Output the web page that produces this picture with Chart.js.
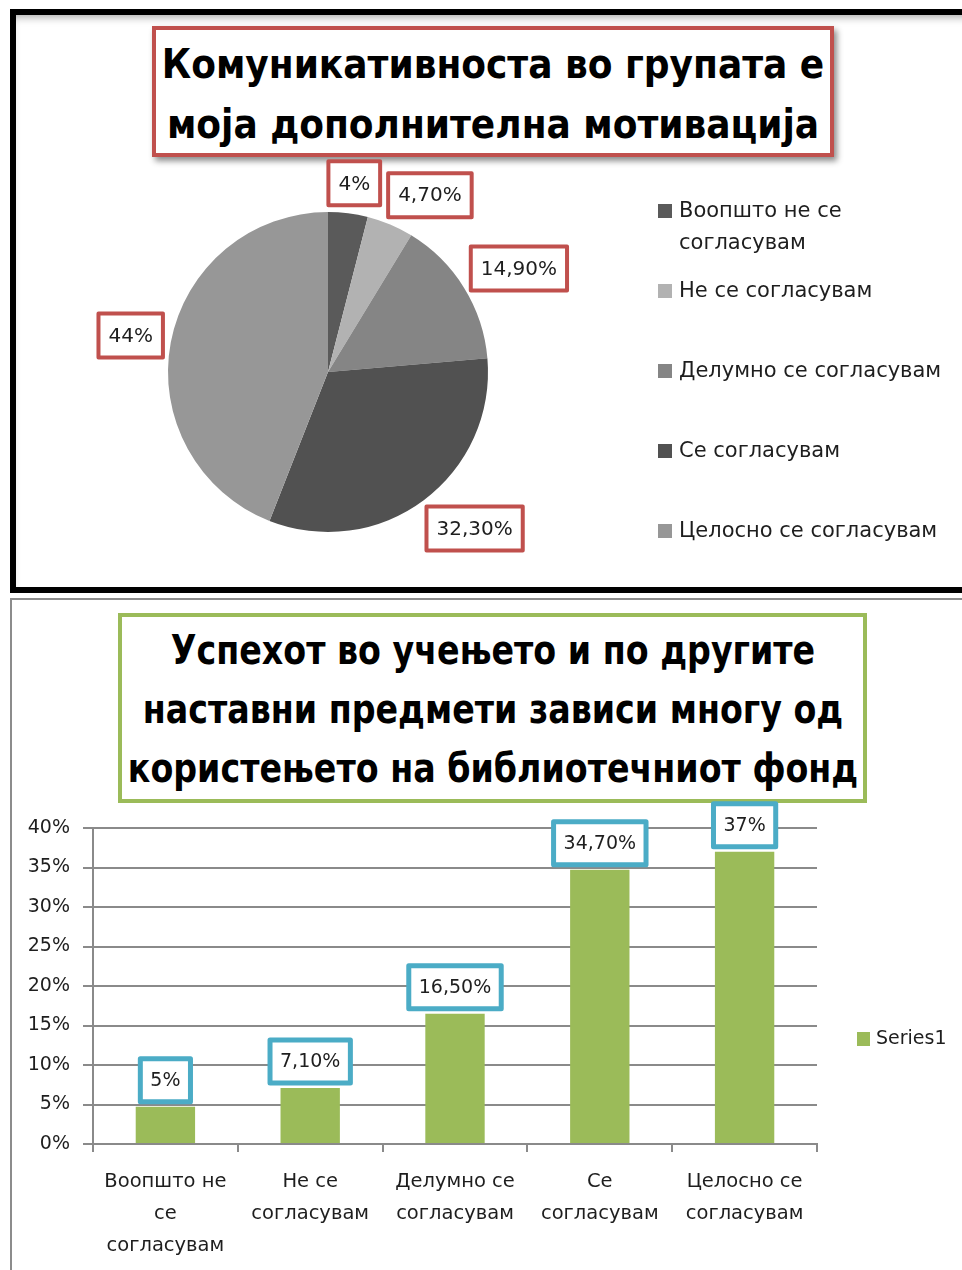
<!DOCTYPE html>
<html>
<head>
<meta charset="utf-8">
<script src="https://cdn.jsdelivr.net/npm/chart.js@4.4.0/dist/chart.umd.min.js"></script>
<style>
  html, body { margin: 0; padding: 0; background: #fff; }
  body { width: 962px; height: 1270px; position: relative; overflow: hidden; font-family: "DejaVu Sans", sans-serif; }
  .frame1 { position: absolute; left: 10px; top: 9px; width: 1000px; height: 572px; border: 6px solid #000;
            box-shadow: inset 0 7px 8px -5px rgba(0,0,0,0.35); }
  .frame2 { position: absolute; left: 10px; top: 598px; width: 1000px; height: 700px; border: 2px solid #8c8c8c; }
  .title { position: absolute; box-sizing: border-box; background: #fff; text-align: center; color: #000;
           font-family: "DejaVu Sans Condensed", "DejaVu Sans", sans-serif; font-weight: bold; white-space: nowrap; }
  .title span { position: absolute; left: 50%; transform: translateX(-50%); }
  #t1 { left: 152px; top: 26px; width: 682px; height: 131px; border: 4px solid #c0504d;
        box-shadow: 3px 4px 6px rgba(0,0,0,0.45); font-size: 40px; line-height: 60px; }
  #t1 span { top: 4px; }
  #t2 { left: 118px; top: 613px; width: 749px; height: 190px; border: 4px solid #9bbb59;
        font-size: 40px; line-height: 59px; }
  #t2 span { top: 4px; transform: translateX(-50%) scaleX(0.925); }
  canvas { position: absolute; left: 0; }
  #pieChart { top: 0; }
  #barChart { top: 800px; }
</style>
</head>
<body>
<div class="frame1"></div>
<div class="frame2"></div>
<div class="title" id="t1"><span>Комуникативноста во групата е<br>моја дополнителна мотивација</span></div>
<div class="title" id="t2"><span>Успехот во учењето и по другите<br>наставни предмети зависи многу од<br>користењето на библиотечниот фонд</span></div>
<canvas id="pieChart" width="962" height="595"></canvas>
<canvas id="barChart" width="962" height="470"></canvas>
<script>
// податоци - пита
const pieLabels = ['Воопшто не се согласувам', 'Не се согласувам', 'Делумно се согласувам', 'Се согласувам', 'Целосно се согласувам'];
const pieValues = [4, 4.7, 14.9, 32.3, 44];
const pieValueLabels = ['4%', '4,70%', '14,90%', '32,30%', '44%'];
const pieColors = ['#5a5a5a', '#b2b2b2', '#858585', '#515151', '#979797'];

// податоци - столбови
const barCategories = [
    ['Воопшто не', 'се', 'согласувам'],
    ['Не се', 'согласувам'],
    ['Делумно се', 'согласувам'],
    ['Се', 'согласувам'],
    ['Целосно се', 'согласувам']
];
const barValues = [4.7, 7.1, 16.5, 34.7, 37];
const barValueLabels = ['5%', '7,10%', '16,50%', '34,70%', '37%'];
const seriesName = 'Series1';

const textColor = '#1e1e1e';
const gridColor = '#8a8a8a';

function labelBox(ctx, cx, cy, w, h, text, stroke, lw) {
    ctx.lineJoin = 'round';
    ctx.fillStyle = '#fff';
    ctx.fillRect(cx - w / 2, cy - h / 2, w, h);
    ctx.strokeStyle = stroke;
    ctx.lineWidth = lw;
    ctx.strokeRect(cx - w / 2, cy - h / 2, w, h);
    ctx.fillStyle = textColor;
    ctx.textAlign = 'center';
    ctx.textBaseline = 'middle';
    ctx.fillText(text, cx, cy + 1);
}

function wrapText(ctx, text, maxW) {
    const words = text.split(' ');
    const lines = [];
    let cur = '';
    words.forEach(w => {
        const test = cur ? cur + ' ' + w : w;
        if (cur && ctx.measureText(test).width > maxW) { lines.push(cur); cur = w; }
        else cur = test;
    });
    lines.push(cur);
    return lines;
}

// етикети со проценти околу питата + легенда
const pieLabelPlugin = {
    id: 'pieLabels',
    afterDatasetsDraw(chart) {
        const ctx = chart.ctx;
        const meta = chart.getDatasetMeta(0);
        ctx.save();
        ctx.font = '20px "DejaVu Sans"';
        let prev = null;
        meta.data.forEach((arc, i) => {
            const p = arc.getProps(['x', 'y', 'startAngle', 'endAngle', 'outerRadius'], true);
            const mid = (p.startAngle + p.endAngle) / 2;
            const cos = Math.cos(mid), sin = Math.sin(mid);
            const text = pieValueLabels[i];
            const w = ctx.measureText(text).width + 20, h = 44;
            const r = p.outerRadius + 8;
            const fx = Math.sign(cos) * Math.min(1, Math.abs(cos) * 1.6);
            const fy = Math.sign(sin) * Math.min(1, Math.abs(sin) * 1.3);
            let cx = p.x + cos * r + fx * w / 2;
            let cy = p.y + sin * r + fy * h / 2;
            if (prev && cx - w / 2 < prev.cx + prev.w / 2 + 8 && Math.abs(cy - prev.cy) < h) {
                cx = prev.cx + prev.w / 2 + 8 + w / 2;
            }
            labelBox(ctx, cx, cy, w, h, text, '#c0504d', 4);
            prev = { cx, cy, w };
        });
        ctx.restore();
    },
    afterDraw(chart) {
        const ctx = chart.ctx;
        const colors = chart.data.datasets[0].backgroundColor;
        ctx.save();
        ctx.font = '21px "DejaVu Sans"';
        ctx.textBaseline = 'middle';
        ctx.textAlign = 'left';
        let y = 212;
        chart.data.labels.forEach((label, i) => {
            ctx.fillStyle = colors[i];
            ctx.fillRect(658, y - 8, 14, 14);
            ctx.fillStyle = textColor;
            wrapText(ctx, label, 962 - 681).forEach((ln, k) => ctx.fillText(ln, 679, y + k * 32));
            y += 80;
        });
        ctx.restore();
    }
};

new Chart(document.getElementById('pieChart').getContext('2d'), {
    type: 'pie',
    data: {
        labels: pieLabels,
        datasets: [{
            data: pieValues,
            backgroundColor: pieColors,
            borderWidth: 0
        }]
    },
    options: {
        responsive: false,
        animation: false,
        layout: { padding: { left: 168, top: 212, right: 474, bottom: 63 } },
        plugins: { legend: { display: false }, tooltip: { enabled: false } }
    },
    plugins: [pieLabelPlugin]
});

// етикети над столбовите + легенда
const barLabelPlugin = {
    id: 'barLabels',
    afterDatasetsDraw(chart) {
        const ctx = chart.ctx;
        const meta = chart.getDatasetMeta(0);
        ctx.save();
        ctx.font = '19px "DejaVu Sans"';
        meta.data.forEach((bar, i) => {
            const p = bar.getProps(['x', 'y'], true);
            const text = barValueLabels[i];
            const w = ctx.measureText(text).width + 20, h = 43;
            labelBox(ctx, p.x, p.y - 5 - h / 2, w, h, text, '#4bacc6', 5);
        });
        ctx.restore();
    },
    afterDraw(chart) {
        const ctx = chart.ctx;
        const ds = chart.data.datasets[0];
        ctx.save();
        ctx.fillStyle = ds.backgroundColor;
        ctx.fillRect(857, 232, 13, 14);
        ctx.font = '19px "DejaVu Sans"';
        ctx.fillStyle = textColor;
        ctx.textBaseline = 'middle';
        ctx.textAlign = 'left';
        ctx.fillText(ds.label, 876, 239);
        ctx.restore();
    }
};

new Chart(document.getElementById('barChart').getContext('2d'), {
    type: 'bar',
    data: {
        labels: barCategories,
        datasets: [{
            label: seriesName,
            data: barValues,
            backgroundColor: '#9bbb59',
            categoryPercentage: 1,
            barPercentage: 0.41
        }]
    },
    options: {
        responsive: false,
        animation: false,
        layout: { padding: { left: 0, top: 28, right: 145, bottom: 0 } },
        plugins: { legend: { display: false }, tooltip: { enabled: false } },
        scales: {
            x: {
                afterFit: s => { s.height = 126; },
                grid: { drawOnChartArea: false, drawTicks: true, tickLength: 8, color: gridColor, lineWidth: 2 },
                border: { color: gridColor, width: 2 },
                ticks: {
                    color: textColor, maxRotation: 0, autoSkip: false, padding: 14,
                    font: { family: '"DejaVu Sans"', size: 19.5, lineHeight: 1.64 }
                }
            },
            y: {
                min: 0, max: 40,
                afterFit: s => { s.width = 93; },
                grid: { color: gridColor, lineWidth: 2, tickLength: 10 },
                border: { color: gridColor, width: 2 },
                ticks: {
                    stepSize: 5, color: textColor, padding: 13,
                    font: { family: '"DejaVu Sans"', size: 19 },
                    callback: v => v + '%'
                }
            }
        }
    },
    plugins: [barLabelPlugin]
});
</script>
</body>
</html>
